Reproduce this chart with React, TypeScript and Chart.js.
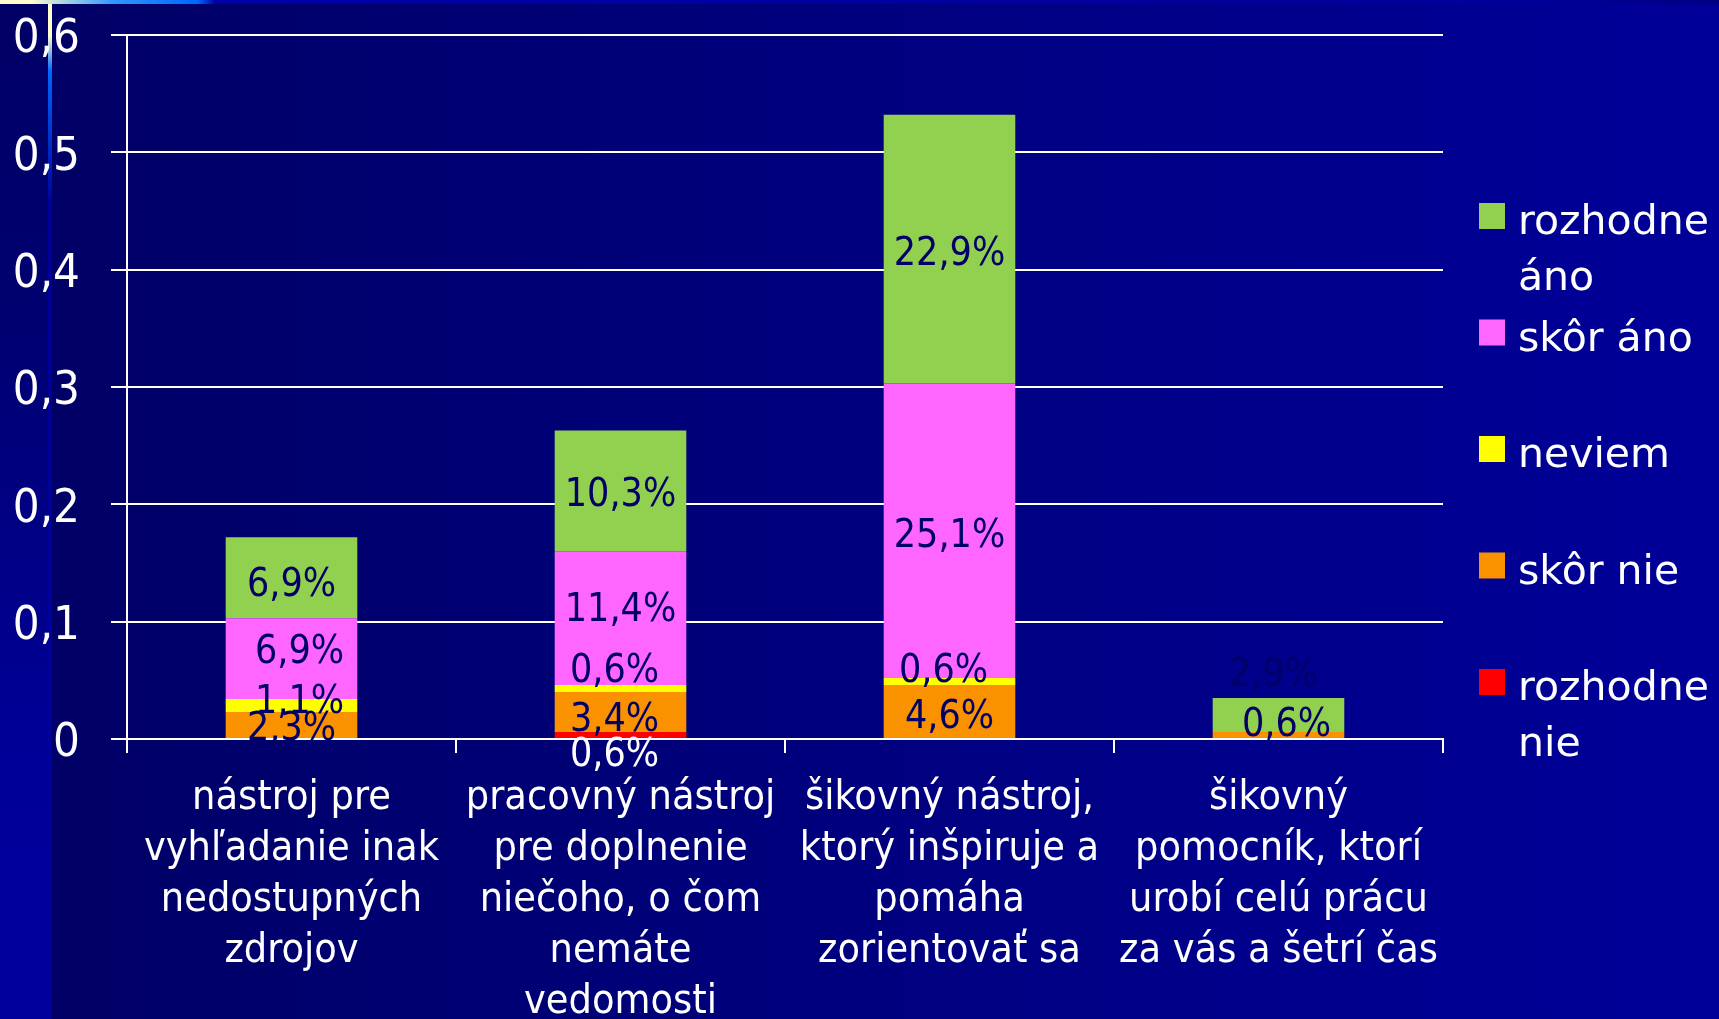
import React, { useEffect, useRef } from "react";
import { Chart, registerables } from "chart.js";

Chart.register(...registerables);

const categories: string[][] = [
  ["nástroj pre", "vyhľadanie inak", "nedostupných", "zdrojov"],
  ["pracovný nástroj", "pre doplnenie", "niečoho, o čom", "nemáte", "vedomosti"],
  ["šikovný nástroj,", "ktorý inšpiruje a", "pomáha", "zorientovať sa"],
  ["šikovný", "pomocník, ktorí", "urobí celú prácu", "za vás a šetrí čas"],
];

const seriesNames = ["rozhodne nie", "skôr nie", "neviem", "skôr áno", "rozhodne áno"];
const rozhodneNie = [0, 0.006, 0, 0];
const skorNie = [0.023, 0.034, 0.046, 0.006];
const neviem = [0.011, 0.006, 0.006, 0];
const skorAno = [0.069, 0.114, 0.251, 0];
const rozhodneAno = [0.069, 0.103, 0.229, 0.029];
const yTicks = [0, 0.1, 0.2, 0.3, 0.4, 0.5, 0.6];

const seriesColors = ["#FF0000", "#FA9200", "#FFFF00", "#FF66FF", "#92D050"];

const W = 1719;
const H = 1019;
const COND = '"DejaVu Sans Condensed", "DejaVu Sans", sans-serif';
const SANS = '"DejaVu Sans", Verdana, sans-serif';

// label nudges [dx, dy] by dataset index then bar index
const labelNudge: Record<number, Record<number, [number, number]>> = {
  0: { 1: [-6, 17] },
  1: { 0: [0, 1], 1: [-6, 5], 2: [0, 2], 3: [8, -13] },
  2: { 0: [8, -7], 1: [-6, -21], 2: [-6, -14] },
  3: { 0: [8, -10], 1: [0, -11], 2: [0, 2] },
  4: { 0: [0, 4], 1: [0, 1], 2: [0, 2], 3: [-5, -43] },
};

const backgroundPlugin = {
  id: "slideBackground",
  beforeDraw(chart: any) {
    const ctx = chart.ctx as CanvasRenderingContext2D;
    ctx.save();
    const g = ctx.createLinearGradient(50, 0, W, 0);
    g.addColorStop(0, "#000066");
    g.addColorStop(1, "#000099");
    ctx.fillStyle = g;
    ctx.fillRect(0, 0, W, H);
    const s = ctx.createLinearGradient(0, 0, 0, H);
    s.addColorStop(0, "#000066");
    s.addColorStop(0.3, "#000070");
    s.addColorStop(0.75, "#000099");
    s.addColorStop(1, "#00009C");
    ctx.fillStyle = s;
    ctx.fillRect(0, 0, 48, H);
    const v = ctx.createLinearGradient(0, 0, 0, H);
    v.addColorStop(0, "#FFFFCC");
    v.addColorStop(0.035, "#FFFFCC");
    v.addColorStop(0.07, "#0066FF");
    v.addColorStop(0.2, "#000099");
    v.addColorStop(1, "#00009C");
    ctx.fillStyle = v;
    ctx.fillRect(48, 0, 4, H);
    const t = ctx.createLinearGradient(0, 0, W, 0);
    t.addColorStop(0, "#FFFFCC");
    t.addColorStop(0.018, "#FFFFCC");
    t.addColorStop(0.065, "#3399FF");
    t.addColorStop(0.115, "#0066FF");
    t.addColorStop(0.125, "#0000A8");
    t.addColorStop(0.9, "#000099");
    t.addColorStop(1, "#000080");
    ctx.fillStyle = t;
    ctx.fillRect(0, 0, W, 4);
    ctx.restore();
  },
};

const dataLabelPlugin = {
  id: "segmentLabels",
  afterDatasetsDraw(chart: any) {
    const ctx = chart.ctx as CanvasRenderingContext2D;
    ctx.save();
    const fs = 39;
    ctx.font = `${fs}px ${COND}`;
    ctx.textAlign = "center";
    ctx.textBaseline = "alphabetic";
    chart.data.datasets.forEach((ds: any, di: number) => {
      const meta = chart.getDatasetMeta(di);
      meta.data.forEach((bar: any, bi: number) => {
        const v = ds.data[bi];
        if (!v) return;
        const cy = (bar.y + bar.base) / 2;
        const n = (labelNudge[di] && labelNudge[di][bi]) || [0, 0];
        const txt = (v * 100).toFixed(1).replace(".", ",") + "%";
        ctx.fillStyle = di === 0 ? "#FFFFFF" : "#000066";
        ctx.fillText(txt, bar.x + n[0], cy + n[1] + fs * 0.364);
      });
    });
    ctx.restore();
  },
};

const legendPlugin = {
  id: "sideLegend",
  afterDraw(chart: any) {
    const ctx = chart.ctx as CanvasRenderingContext2D;
    const area = chart.chartArea;
    ctx.save();
    const fs = 41;
    ctx.font = `${fs}px ${SANS}`;
    ctx.textAlign = "left";
    ctx.textBaseline = "alphabetic";
    const boxX = area.right + 36;
    const textX = boxX + 39;
    const maxW = W - textX - 2;
    const items = chart.data.datasets.map((d: any) => d).reverse();
    items.forEach((ds: any, i: number) => {
      const cy = area.top + 181 + i * 116.5;
      ctx.fillStyle = ds.backgroundColor;
      ctx.fillRect(boxX, cy - 13, 26, 26);
      const words = String(ds.label).split(" ");
      const lines: string[] = [];
      let cur = "";
      words.forEach((w) => {
        const test = cur ? cur + " " + w : w;
        if (cur && ctx.measureText(test).width > maxW) {
          lines.push(cur);
          cur = w;
        } else cur = test;
      });
      if (cur) lines.push(cur);
      ctx.fillStyle = "#FFFFFF";
      lines.forEach((ln, li) => {
        ctx.fillText(ln, textX, cy + 18 + li * 56);
      });
    });
    ctx.restore();
  },
};

export default function App() {
  const ref = useRef<HTMLCanvasElement | null>(null);
  useEffect(() => {
    document.body.style.margin = "0";
    document.body.style.background = "#000066";
    const canvas = ref.current!;
    const valueSets = [rozhodneNie, skorNie, neviem, skorAno, rozhodneAno];
    const chart = new Chart(canvas, {
      type: "bar",
      data: {
        labels: categories,
        datasets: valueSets.map((vals, i) => ({
          label: seriesNames[i],
          data: vals,
          backgroundColor: seriesColors[i],
          borderWidth: 0,
          barPercentage: 0.4,
          categoryPercentage: 1,
        })),
      },
      options: {
        responsive: false,
        animation: false,
        devicePixelRatio: 1,
        layout: { padding: { top: 35, right: 276, left: 0, bottom: 0 } },
        plugins: {
          legend: { display: false },
          tooltip: { enabled: false },
          title: { display: false },
        },
        scales: {
          x: {
            stacked: true,
            grid: {
              display: true,
              drawOnChartArea: false,
              drawTicks: true,
              tickLength: 14,
              color: "#FFFFFF",
              lineWidth: 2,
              offset: true,
            },
            border: { display: true, color: "#FFFFFF", width: 2 },
            ticks: {
              color: "#FFFFFF",
              autoSkip: false,
              maxRotation: 0,
              minRotation: 0,
              padding: 20,
              font: { family: COND, size: 41, lineHeight: "51px" },
            },
            afterFit: (scale: any) => {
              scale.height = 280;
            },
          },
          y: {
            stacked: true,
            min: 0,
            max: 0.6,
            afterBuildTicks: (scale: any) => {
              scale.ticks = yTicks.map((v) => ({ value: v }));
            },
            grid: {
              color: "#FFFFFF",
              lineWidth: 2,
              drawTicks: true,
              tickLength: 16,
            },
            border: { display: true, color: "#FFFFFF", width: 2 },
            ticks: {
              color: "#FFFFFF",
              padding: 31,
              labelOffset: 5,
              font: { family: COND, size: 47, lineHeight: 0.1 },
              callback: (v: any) => {
                const n = Number(v);
                return n === 0 ? "0" : n.toFixed(1).replace(".", ",");
              },
            },
            afterFit: (scale: any) => {
              scale.width = 127;
            },
          },
        },
      },
      plugins: [backgroundPlugin, dataLabelPlugin, legendPlugin],
    });
    return () => chart.destroy();
  }, []);
  return (
    <canvas
      ref={ref}
      width={W}
      height={H}
      style={{ display: "block", width: W, height: H }}
    />
  );
}
